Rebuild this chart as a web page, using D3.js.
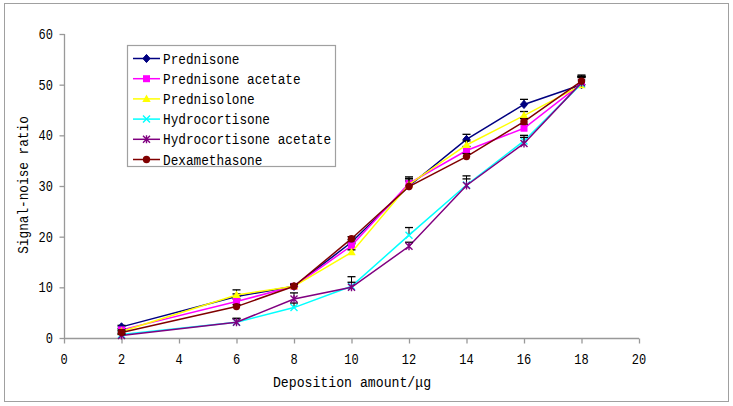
<!DOCTYPE html>
<html><head><meta charset="utf-8">
<script src="https://cdn.jsdelivr.net/npm/d3@7"></script>
<style>body{margin:0;background:#fff}svg{display:block}</style>
</head><body>
<script>
const xValues = [2, 6, 8, 10, 12, 14, 16, 18];
const seriesNames = ["Prednisone","Prednisone acetate","Prednisolone","Hydrocortisone","Hydrocortisone acetate","Dexamethasone"];
const prednisone = [2.2, 8.2, 10.2, 18.9, 30.0, 39.2, 46.1, 50.0];
const prednisoneAcetate = [1.6, 7.2, 10.2, 18.2, 30.5, 37.0, 41.4, 50.2];
const prednisolone = [1.3, 8.5, 10.2, 16.9, 30.3, 38.1, 43.9, 49.9];
const hydrocortisone = [0.7, 3.1, 6.0, 10.2, 20.3, 30.2, 38.9, 50.2];
const hydrocortisoneAcetate = [0.5, 3.1, 7.7, 10.0, 18.1, 30.1, 38.4, 50.4];
const dexamethasone = [1.1, 6.2, 10.2, 19.6, 29.9, 35.8, 42.7, 50.7];
const errPrednisone = [0.3, 0.5, 0.4, 0.5, 1.0, 1.0, 1.0, 1.6];
const errPrednisoneAcetate = [0.3, 0.5, 0.3, 0.4, 1.0, 0.8, 0.8, 1.2];
const errPrednisolone = [0.3, 1.0, 0.4, 0.5, 1.5, 0.8, 0.8, 1.8];
const errHydrocortisone = [0.2, 0.8, 0.9, 1.9, 1.5, 1.2, 1.1, 1.3];
const errHydrocortisoneAcetate = [0.2, 0.7, 1.2, 1.0, 0.8, 1.9, 1.2, 1.2];
const errDexamethasone = [0.3, 0.4, 0.4, 0.4, 1.5, 0.6, 0.6, 1.2];
const xTicks = [0, 2, 4, 6, 8, 10, 12, 14, 16, 18, 20];
const yTicks = [0, 10, 20, 30, 40, 50, 60];
const xTitle = "Deposition amount/\u03bcg";
const yTitle = "Signal-noise ratio";

const colors = ["#000080","#FF00FF","#FFFF00","#00FFFF","#800080","#800000"];
const shapes = ["diamond","square","triangle","x","star","circle"];
const values = [prednisone, prednisoneAcetate, prednisolone, hydrocortisone, hydrocortisoneAcetate, dexamethasone];
const errors = [errPrednisone, errPrednisoneAcetate, errPrednisolone, errHydrocortisone, errHydrocortisoneAcetate, errDexamethasone];
const series = seriesNames.map((n,i)=>({name:n,color:colors[i],shape:shapes[i],
  pts:xValues.map((x,j)=>({x, y:values[i][j], e:errors[i][j]}))}));

const W=733,H=406;
const svg=d3.select("body").append("svg").attr("width",W).attr("height",H);
svg.append("rect").attr("x",4.5).attr("y",3.5).attr("width",724).attr("height",398)
  .attr("fill","#fff").attr("stroke","#a0a0a0").attr("stroke-width",1);

const x=d3.scaleLinear().domain([0,20]).range([64,639]);
const y=d3.scaleLinear().domain([0,60]).range([338,34]);
const FONT="'Liberation Mono', monospace";
const axisColor="#999";

// axes
const gx=svg.append("g").attr("transform","translate(0,338.5)")
  .call(d3.axisBottom(x).tickValues(xTicks).tickSize(5).tickFormat(""));
const gy=svg.append("g").attr("transform","translate(64.5,0)")
  .call(d3.axisLeft(y).tickValues(yTicks).tickSize(5).tickFormat(""));
[gx,gy].forEach(g=>{g.selectAll("path,line").attr("stroke",axisColor).attr("stroke-width",1.3);});
gx.select(".domain").attr("d",`M${x(0)},0H${x(20)}`);
gy.select(".domain").attr("d",`M0,${y(60)}V${y(0)}`);

function txt(sel, t, px, py, anchor, size, sx){
  const g=sel.append("g").attr("transform",`translate(${px},${py}) scale(${sx},1)`);
  return g.append("text").attr("font-family",FONT).attr("font-size",size)
    .attr("text-anchor",anchor).attr("fill","#000").text(t);
}
xTicks.forEach(v=>txt(svg,String(v),x(v),364,"middle",15,0.8));
yTicks.forEach(v=>txt(svg,String(v),53,y(v)+5,"end",15,0.8));
txt(svg,xTitle,352,387,"middle",15,0.88);
svg.append("g").attr("transform",`translate(28,${185}) rotate(-90) scale(0.85,1)`)
  .append("text").attr("font-family",FONT).attr("font-size",15).attr("text-anchor","middle")
  .attr("fill","#000").text(yTitle);

function marker(g, shape, color, cx, cy){
  const s=3.6;
  if(shape==="diamond") g.append("path").attr("d",`M${cx},${cy-s-0.5}L${cx+s},${cy}L${cx},${cy+s+0.5}L${cx-s},${cy}Z`).attr("fill",color).attr("stroke",color);
  else if(shape==="square") g.append("rect").attr("x",cx-3.5).attr("y",cy-3.5).attr("width",7).attr("height",7).attr("fill",color);
  else if(shape==="triangle") g.append("path").attr("d",`M${cx},${cy-4.5}L${cx+4.2},${cy+3}L${cx-4.2},${cy+3}Z`).attr("fill",color);
  else if(shape==="circle") g.append("circle").attr("cx",cx).attr("cy",cy).attr("r",3.7).attr("fill",color);
  else if(shape==="x") g.append("path").attr("d",`M${cx-3.5},${cy-3.5}L${cx+3.5},${cy+3.5}M${cx-3.5},${cy+3.5}L${cx+3.5},${cy-3.5}`).attr("stroke",color).attr("stroke-width",1.4);
  else if(shape==="star") g.append("path").attr("d",`M${cx-3.5},${cy-3.5}L${cx+3.5},${cy+3.5}M${cx-3.5},${cy+3.5}L${cx+3.5},${cy-3.5}M${cx},${cy-4}V${cy+4}`).attr("stroke",color).attr("stroke-width",1.4);
}

const line=d3.line().x(d=>x(d.x)).y(d=>y(d.y));
const plot=svg.append("g");
series.forEach(s=>{
  const g=plot.append("g");
  g.append("path").datum(s.pts).attr("d",line).attr("fill","none").attr("stroke",s.color).attr("stroke-width",1.5);
  s.pts.forEach(p=>{
    const ex=x(p.x), y0=y(p.y), y1=y(p.y+p.e);
    g.append("line").attr("x1",ex).attr("x2",ex).attr("y1",y0).attr("y2",y1).attr("stroke","#000").attr("stroke-width",1);
    g.append("line").attr("x1",ex-4).attr("x2",ex+4).attr("y1",y1).attr("y2",y1).attr("stroke","#000").attr("stroke-width",1.3);
  });
  s.pts.forEach(p=>marker(g,s.shape,s.color,x(p.x),y(p.y)));
});

// legend
const lg=svg.append("g");
lg.append("rect").attr("x",127.5).attr("y",45.5).attr("width",208).attr("height",121)
  .attr("fill","#fff").attr("stroke","#a0a0a0").attr("stroke-width",1.2);
series.forEach((s,i)=>{
  const ly=58.5+i*20.2;
  lg.append("line").attr("x1",133).attr("x2",160).attr("y1",ly).attr("y2",ly).attr("stroke",s.color).attr("stroke-width",1.5);
  marker(lg,s.shape,s.color,146.5,ly);
  txt(lg,s.name,163,ly+5,"start",15,0.85);
});
</script>
</body></html>
